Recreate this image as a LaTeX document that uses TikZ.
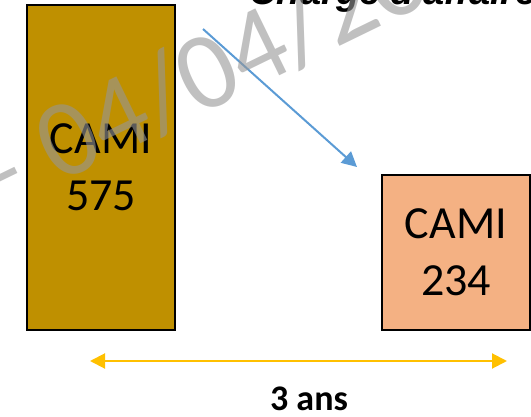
\documentclass[tikz,border=0pt]{standalone}
\usepackage{fontspec}
\setmainfont{Carlito}
\newfontfamily\arialfont{Liberation Sans}
\usetikzlibrary{arrows.meta}
\definecolor{camigold}{HTML}{BF9000}
\definecolor{camisalmon}{HTML}{F4B183}
\definecolor{flowblue}{HTML}{5B9BD5}
\definecolor{spanyellow}{HTML}{FFC000}
\definecolor{wmgray}{RGB}{150,150,150}
\tikzset{
	camibox/.style={draw=black, line width=2pt, align=center, inner sep=0pt,
		font=\fontsize{46}{57}\selectfont},
	bigtip/.style={>={Triangle[length=15pt,width=15pt]}},
}

\begin{document}
\begin{tikzpicture}[x=1pt, y=1pt]
			% 枠の設定
			\useasboundingbox (0,0) rectangle (531,416);
			\clip (0,0) rectangle (531,416);
			% 箱の描画
			\node[camibox, fill=camigold, minimum width=148pt, minimum height=325pt] (cami_old) at (101,248.5) {CAMI\\575};
			\node[camibox, fill=camisalmon, minimum width=148pt, minimum height=155pt] (cami_new) at (456,163.5) {CAMI\\234};
			% 点の定義
			\coordinate (flow_start) at (203,387);
			\coordinate (flow_end) at (357,249);
			\coordinate (span_left) at (90,55);
			\coordinate (span_right) at (507,55);
			% 矢印の描画
			\draw[->, bigtip, flowblue, line width=2pt] (flow_start)--(flow_end);
			\draw[<->, bigtip, spanyellow, line width=2pt] (span_left)--(span_right);
			% 文字の描画
			\node[anchor=base, font=\bfseries\fontsize{36}{43}\selectfont] (duree) at (309,6) {3 ans};
			\node[anchor=base west, font=\arialfont\bfseries\itshape\fontsize{38}{46}\selectfont] (titre) at (246,411) {Chargé d'affaire};
			% 透かしの描画
			\node[anchor=base west, rotate=26, inner sep=0pt, text=wmgray, text opacity=0.6,
				font=\fontsize{110}{132}\selectfont] (filigrane) at (-13,197.4) {– 04/04/2023};
		\end{tikzpicture}
\end{document}
